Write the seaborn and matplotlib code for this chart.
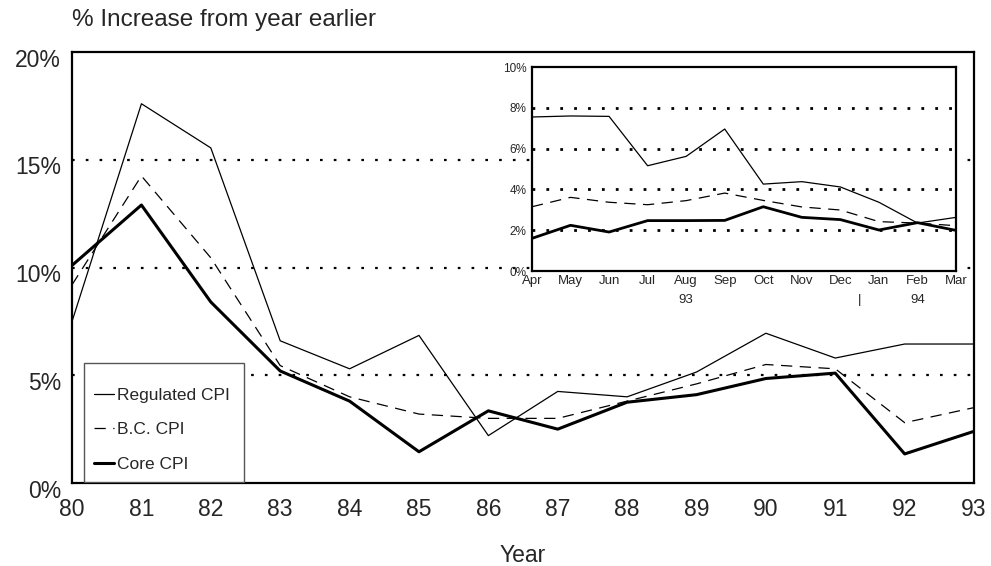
import numpy as np
import pandas as pd
import seaborn as sns
import matplotlib
matplotlib.use("Agg")
from matplotlib import pyplot as plt
from matplotlib.patches import Rectangle
from matplotlib.transforms import ScaledTranslation

# annual data, % increase from year earlier
years = [80, 81, 82, 83, 84, 85, 86, 87, 88, 89, 90, 91, 92, 93]
regulated = [7.5, 17.6, 15.55, 6.6, 5.3, 6.85, 2.2, 4.25, 4.0, 5.15, 6.95, 5.8, 6.45, 6.45]
bc_cpi = [9.2, 14.25, 10.45, 5.45, 4.0, 3.2, 3.0, 3.0, 3.8, 4.6, 5.5, 5.3, 2.8, 3.5]
core_cpi = [10.1, 12.9, 8.4, 5.2, 3.8, 1.45, 3.35, 2.5, 3.75, 4.1, 4.85, 5.1, 1.35, 2.4]
year_ticks = [str(y) for y in years]
main_yticks = [0, 5, 10, 15, 20]

# monthly data Apr 93 - Mar 94 (inset)
months = ['Apr', 'May', 'Jun', 'Jul', 'Aug', 'Sep', 'Oct', 'Nov', 'Dec', 'Jan', 'Feb', 'Mar']
regulated_m = [7.55, 7.6, 7.58, 5.16, 5.62, 6.96, 4.26, 4.38, 4.12, 3.37, 2.35, 2.63]
bc_cpi_m = [3.15, 3.61, 3.37, 3.25, 3.45, 3.82, 3.46, 3.14, 2.99, 2.42, 2.35, 2.22]
core_cpi_m = [1.6, 2.24, 1.91, 2.47, 2.47, 2.48, 3.15, 2.63, 2.52, 2.01, 2.37, 1.99]
inset_yticks = [0, 2, 4, 6, 8, 10]

sns.set_style('white')
plt.rcParams['font.family'] = ['Liberation Sans', 'DejaVu Sans']

fig = plt.figure(figsize=(9.91, 5.66), dpi=100)
ax = fig.add_axes([0.0727, 0.1466, 0.9102, 0.7615])

dotted = (0, (1.2, 5))
for g in [5, 10, 15]:
    ax.axhline(g, color='black', lw=1.6, ls=dotted, zorder=1)

sns.lineplot(x=years, y=regulated, ax=ax, color='black', lw=0.9, label='Regulated CPI')
sns.lineplot(x=years, y=bc_cpi, ax=ax, color='black', lw=0.9, linestyle=(0, (9, 6)), label='B.C. CPI')
sns.lineplot(x=years, y=core_cpi, ax=ax, color='black', lw=2.2, label='Core CPI')

ax.set_xlim(80, 93)
ax.set_ylim(0, 20)
ax.set_xticks(years)
ax.set_xticklabels(year_ticks)
ax.set_yticks(main_yticks)
ax.set_yticklabels([f'{v}%' for v in main_yticks])
ax.tick_params(axis='x', length=0, pad=11, labelsize=16.5)
ax.tick_params(axis='y', length=0, pad=8, labelsize=16.5)
for lab in ax.get_yticklabels():
    lab.set_transform(lab.get_transform() + ScaledTranslation(0, -4 / 72, fig.dpi_scale_trans))
for s in ax.spines.values():
    s.set_color('black')
    s.set_linewidth(1.6)
ax.set_xlabel('Year', fontsize=16.5, labelpad=16)
ax.set_ylabel('')
ax.text(0, 1.075, '% Increase from year earlier', transform=ax.transAxes,
        fontsize=17.5, ha='left', va='center')

# legend: frame drawn as a separate box so it can be taller at the top
ax.add_patch(Rectangle((0.0133, 0.002), 0.1775, 0.276, transform=ax.transAxes,
                       facecolor='white', edgecolor='#555555', lw=1.0, zorder=4))
h, l = ax.get_legend_handles_labels()
leg = ax.legend(h, l, loc='lower left', bbox_to_anchor=(0.0133, 0.002), fontsize=12.5,
                frameon=False, handlelength=1.1,
                handletextpad=0.2, labelspacing=1.1, borderpad=0.6, borderaxespad=0)

# inset with monthly data
axi = fig.add_axes([0.5368, 0.5212, 0.4279, 0.3604])
axi.set_facecolor('white')
for g in [2, 4, 6, 8]:
    axi.axhline(g, color='black', lw=2.0, ls=(0, (1, 4)), zorder=1)
mx = np.arange(len(months))
sns.lineplot(x=mx, y=regulated_m, ax=axi, color='black', lw=0.9)
sns.lineplot(x=mx, y=bc_cpi_m, ax=axi, color='black', lw=0.9, linestyle=(0, (9, 6)))
sns.lineplot(x=mx, y=core_cpi_m, ax=axi, color='black', lw=2.0)
axi.set_xlim(0, len(months) - 1)
axi.set_ylim(0, 10)
axi.set_xticks(mx)
axi.set_xticklabels(months)
axi.set_yticks(inset_yticks)
axi.set_yticklabels([f'{v}%' for v in inset_yticks])
axi.tick_params(axis='x', length=0, pad=3, labelsize=9.5)
axi.tick_params(axis='y', length=0, pad=4, labelsize=8.5)
for s in axi.spines.values():
    s.set_color('black')
    s.set_linewidth(1.6)
trans = axi.get_xaxis_transform()
axi.text(4, -0.14, '93', transform=trans, ha='center', va='center', fontsize=9.5)
axi.text(8.5, -0.14, '|', transform=trans, ha='center', va='center', fontsize=9.5)
axi.text(10, -0.14, '94', transform=trans, ha='center', va='center', fontsize=9.5)

fig.savefig('out.png', dpi=100)
